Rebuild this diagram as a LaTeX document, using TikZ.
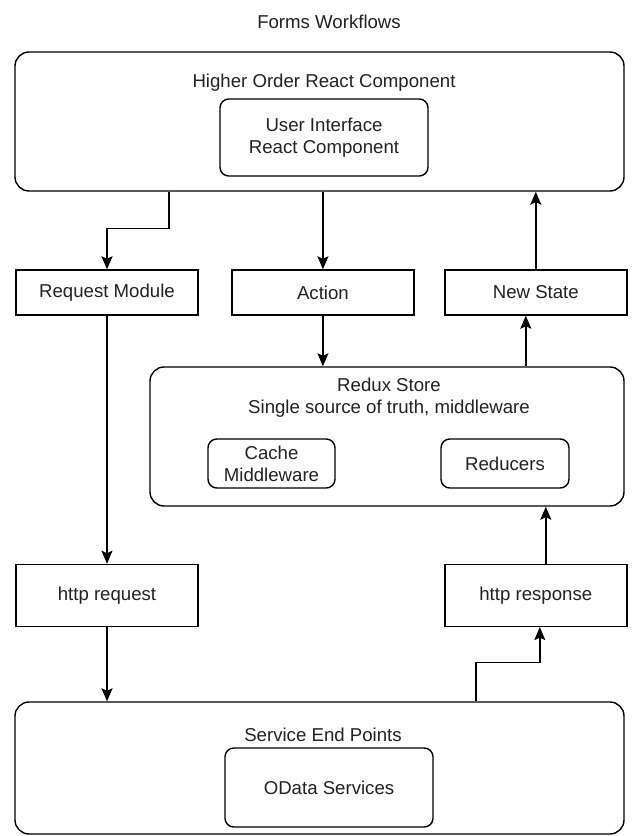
\documentclass[tikz,border=0pt]{standalone}
\usepackage{fontspec}
\setmainfont{Liberation Sans}
\usetikzlibrary{arrows.meta, positioning, calc}
\definecolor{flowText}{RGB}{34,34,34}
\newcommand{\wfFont}{\fontsize{10.6}{12.6}\selectfont}
\tikzset{
    groupbox/.style={
        rectangle,
        draw=black,
        line width=0.8pt,
        rounded corners=8pt,
        minimum width=12.18cm
    },
    innerbox/.style={
        rectangle,
        draw=black,
        line width=0.8pt,
        rounded corners=5pt,
        align=center,
        text=flowText,
        font=\wfFont
    },
    stepbox/.style={
        rectangle,
        draw=black,
        line width=0.8pt,
        align=center,
        minimum width=3.64cm,
        minimum height=0.90cm,
        text=flowText,
        font=\wfFont
    },
    plaintext/.style={inner sep=0pt, align=center, text=flowText, font=\wfFont},
    flowarrow/.style={-{Stealth[length=2.6mm, width=2.2mm, inset=0.5mm]}, line width=0.8pt, draw=black}
}

\begin{document}
\begin{tikzpicture}
    \useasboundingbox (0,0) rectangle (12.68,-16.72);
    \node[plaintext] (title) at (6.58,-0.44) {Forms Workflows};

    \node[groupbox, minimum height=2.78cm] (hoc) at (6.39,-2.43) {};
    \node[plaintext] (hoclabel) at (6.48,-1.66) {Higher Order React Component};
    \node[innerbox, minimum width=4.16cm, minimum height=1.54cm] (ui) at (6.48,-2.75) {User Interface\\React Component};

    \node[stepbox] (request) at (2.14,-5.85) {Request Module};
    \node[stepbox, right=0.65cm of request] (action) {Action};
    \node[stepbox, right=0.59cm of action] (newstate) {New State};

    \node[groupbox, minimum width=9.48cm, minimum height=2.78cm] (redux) at (7.74,-8.73) {};
    \node[plaintext] (reduxlabel) at (7.78,-7.96) {Redux Store\\Single source of truth, middleware};
    \node[innerbox, minimum width=2.54cm, minimum height=0.98cm] (cache) at (5.43,-9.27) {Cache\\Middleware};
    \node[innerbox, minimum width=2.56cm, minimum height=0.98cm] (reducers) at (10.10,-9.27) {Reducers};

    \node[stepbox, minimum height=1.24cm, below=4.96cm of request] (httpreq) {http request};
    \node[stepbox, minimum height=1.24cm] (httpresp) at (httpreq -| newstate) {http response};

    \node[groupbox, minimum height=2.64cm] (service) at (6.39,-15.36) {};
    \node[plaintext] (servicelabel) at (6.46,-14.70) {Service End Points};
    \node[innerbox, minimum width=4.16cm, minimum height=1.58cm] (odata) at (6.58,-15.75) {OData Services};

    \draw[flowarrow] ([xshift=-3.01cm]hoc.south) -- ++(0,-0.74) -| (request.north);
    \draw[flowarrow] (hoc.south -| action) -- (action.north);
    \draw[flowarrow] (newstate.north) -- (newstate.north |- hoc.south);
    \draw[flowarrow] (action.south) -- (action.south |- redux.north);
    \draw[flowarrow] ([xshift=-0.20cm]newstate.south |- redux.north) -- ([xshift=-0.20cm]newstate.south);
    \draw[flowarrow] (request.south) -- (httpreq.north);
    \draw[flowarrow] ([xshift=0.20cm]httpresp.north) -- ([xshift=0.20cm]httpresp.north |- redux.south);
    \draw[flowarrow] (httpreq.south) -- (httpreq.south |- service.north);
    \draw[flowarrow] ([xshift=3.13cm]service.north) -- ++(0,0.78) -| ([xshift=0.08cm]httpresp.south);
\end{tikzpicture}
\end{document}
